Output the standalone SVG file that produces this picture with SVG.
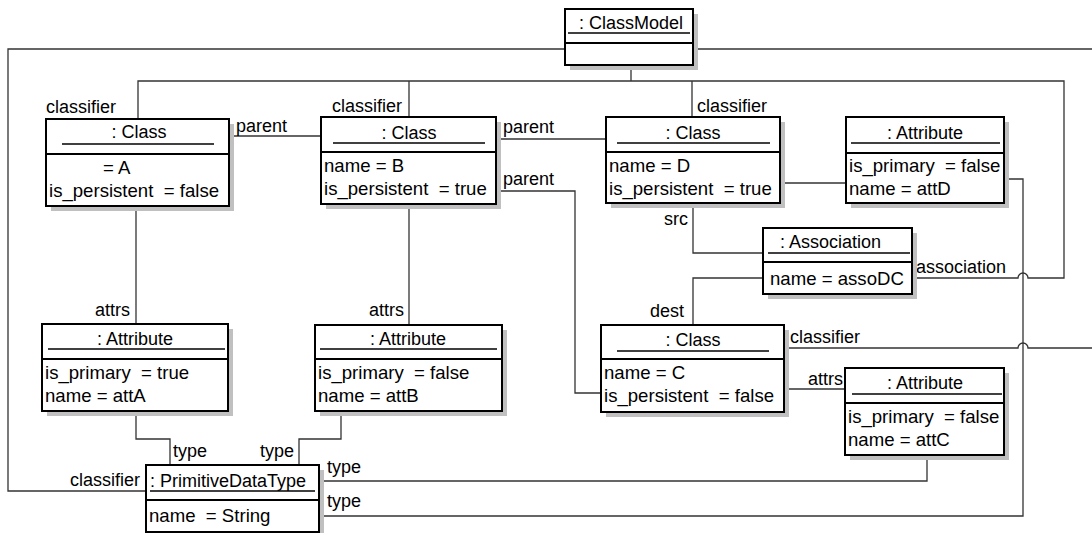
<svg xmlns="http://www.w3.org/2000/svg" width="1092" height="533" viewBox="0 0 1092 533">
<defs>
<style>
text{font-family:"Liberation Sans",Arial,sans-serif;font-size:18px;fill:#000;white-space:pre}
.row{font-size:18.6px}
.mid{text-anchor:middle}
.end{text-anchor:end}
.sh{fill:#c0c0c0;stroke:none}
.bx{fill:#fff;stroke:#000;stroke-width:2}
.sep{stroke:#000;stroke-width:2}
.ul{stroke:#000;stroke-width:1.5}
.cn{fill:none;stroke:#333;stroke-width:1.3}
</style>
</defs>
<rect width="1092" height="533" fill="#fff"/>
<g id="connectors">
<path class="cn" d="M565,49 H8 V491 H146"/>
<path class="cn" d="M693,49 H1092"/>
<path class="cn" d="M784,348 H1018 A5,5 0 0 1 1028,348 H1092"/>
<path class="cn" d="M631,65 V81 M138,119 V81 H1064 V278 H1028 A5,5 0 0 0 1018,278 H912 M409,81 V117 M692,81 V117"/>
<path class="cn" d="M229,136 H321"/>
<path class="cn" d="M496,139 H606"/>
<path class="cn" d="M496,191 H575 V393 H601"/>
<path class="cn" d="M136,206 V324"/>
<path class="cn" d="M409,204 V325"/>
<path class="cn" d="M693,203 V253 H763"/>
<path class="cn" d="M763,278 H693 V325"/>
<path class="cn" d="M784,389 H845"/>
<path class="cn" d="M780,183 H846"/>
<path class="cn" d="M1004,179 H1023 V516 H319"/>
<path class="cn" d="M927,455 V481 H319"/>
<path class="cn" d="M136,411 V439 H170 V465"/>
<path class="cn" d="M341,411 V439 H299 V465"/>
<text x="140" y="486" class="end">classifier</text>
<text x="46" y="113">classifier</text>
<text x="332" y="112">classifier</text>
<text x="697" y="112">classifier</text>
<text x="790" y="343">classifier</text>
<text x="916" y="273">association</text>
<text x="236" y="132">parent</text>
<text x="503" y="133">parent</text>
<text x="503" y="185">parent</text>
<text x="130" y="316" class="end">attrs</text>
<text x="404" y="316" class="end">attrs</text>
<text x="843" y="385" class="end">attrs</text>
<text x="688" y="225" class="end">src</text>
<text x="684" y="317" class="end">dest</text>
<text x="173" y="457">type</text>
<text x="294" y="457" class="end">type</text>
<text x="327" y="473">type</text>
<text x="327" y="507">type</text>
</g>
<g id="classmodel">
<rect class="sh" x="570" y="14" width="128" height="56"/>
<rect class="bx" x="565" y="9" width="128" height="56"/>
<line class="sep" x1="565" y1="43" x2="693" y2="43"/>
<line class="ul" x1="568" y1="33" x2="690" y2="33"/>
<text x="631" y="29" class="mid">: ClassModel</text>
</g>
<g id="classA">
<rect class="sh" x="51" y="124" width="183" height="87"/>
<rect class="bx" x="46" y="119" width="183" height="87"/>
<line class="sep" x1="46" y1="154" x2="229" y2="154"/>
<line class="ul" x1="62" y1="144" x2="214" y2="144"/>
<text x="139" y="138" class="mid">: Class</text>
<text x="103" y="174" class="row">= A</text>
<text x="49" y="197" class="row">is_persistent  = false</text>
</g>
<g id="classB">
<rect class="sh" x="326" y="122" width="175" height="87"/>
<rect class="bx" x="321" y="117" width="175" height="87"/>
<line class="sep" x1="321" y1="152" x2="496" y2="152"/>
<line class="ul" x1="333" y1="143" x2="485" y2="143"/>
<text x="409" y="139" class="mid">: Class</text>
<text x="324" y="172" class="row">name = B</text>
<text x="324" y="195" class="row">is_persistent  = true</text>
</g>
<g id="classD">
<rect class="sh" x="611" y="122" width="174" height="86"/>
<rect class="bx" x="606" y="117" width="174" height="86"/>
<line class="sep" x1="606" y1="152" x2="780" y2="152"/>
<line class="ul" x1="617" y1="143" x2="770" y2="143"/>
<text x="693" y="139" class="mid">: Class</text>
<text x="609" y="172" class="row">name = D</text>
<text x="609" y="195" class="row">is_persistent  = true</text>
</g>
<g id="attributeD">
<rect class="sh" x="851" y="122" width="158" height="86"/>
<rect class="bx" x="846" y="117" width="158" height="86"/>
<line class="sep" x1="846" y1="153" x2="1004" y2="153"/>
<line class="ul" x1="851" y1="143" x2="1000" y2="143"/>
<text x="925" y="139" class="mid">: Attribute</text>
<text x="849" y="172" class="row">is_primary  = false</text>
<text x="849" y="195" class="row">name = attD</text>
</g>
<g id="association">
<rect class="sh" x="768" y="233" width="149" height="66"/>
<rect class="bx" x="763" y="228" width="149" height="66"/>
<line class="sep" x1="763" y1="262" x2="912" y2="262"/>
<line class="ul" x1="768" y1="253" x2="910" y2="253"/>
<text x="780" y="248">: Association</text>
<text x="770" y="285" class="row">name = assoDC</text>
</g>
<g id="classC">
<rect class="sh" x="606" y="330" width="183" height="87"/>
<rect class="bx" x="601" y="325" width="183" height="87"/>
<line class="sep" x1="601" y1="359" x2="784" y2="359"/>
<line class="ul" x1="617" y1="351" x2="769" y2="351"/>
<text x="693" y="346" class="mid">: Class</text>
<text x="604" y="379" class="row">name = C</text>
<text x="604" y="402" class="row">is_persistent  = false</text>
</g>
<g id="attributeC">
<rect class="sh" x="850" y="373" width="159" height="87"/>
<rect class="bx" x="845" y="368" width="159" height="87"/>
<line class="sep" x1="845" y1="403" x2="1004" y2="403"/>
<line class="ul" x1="852" y1="394" x2="1002" y2="394"/>
<text x="925" y="389" class="mid">: Attribute</text>
<text x="848" y="423" class="row">is_primary  = false</text>
<text x="848" y="446" class="row">name = attC</text>
</g>
<g id="attributeA">
<rect class="sh" x="47" y="329" width="186" height="87"/>
<rect class="bx" x="42" y="324" width="186" height="87"/>
<line class="sep" x1="42" y1="359" x2="228" y2="359"/>
<line class="ul" x1="48" y1="349" x2="225" y2="349"/>
<text x="135" y="345" class="mid">: Attribute</text>
<text x="45" y="379" class="row">is_primary  = true</text>
<text x="45" y="402" class="row">name = attA</text>
</g>
<g id="attributeB">
<rect class="sh" x="320" y="330" width="187" height="86"/>
<rect class="bx" x="315" y="325" width="187" height="86"/>
<line class="sep" x1="315" y1="359" x2="502" y2="359"/>
<line class="ul" x1="320" y1="349" x2="497" y2="349"/>
<text x="408" y="345" class="mid">: Attribute</text>
<text x="318" y="379" class="row">is_primary  = false</text>
<text x="318" y="402" class="row">name = attB</text>
</g>
<g id="primitiveDataType">
<rect class="sh" x="151" y="470" width="173" height="67"/>
<rect class="bx" x="146" y="465" width="173" height="67"/>
<line class="sep" x1="146" y1="500" x2="319" y2="500"/>
<line class="ul" x1="150" y1="491" x2="315" y2="491"/>
<text x="150" y="487">: PrimitiveDataType</text>
<text x="149" y="522" class="row">name  = String</text>
</g>
</svg>
